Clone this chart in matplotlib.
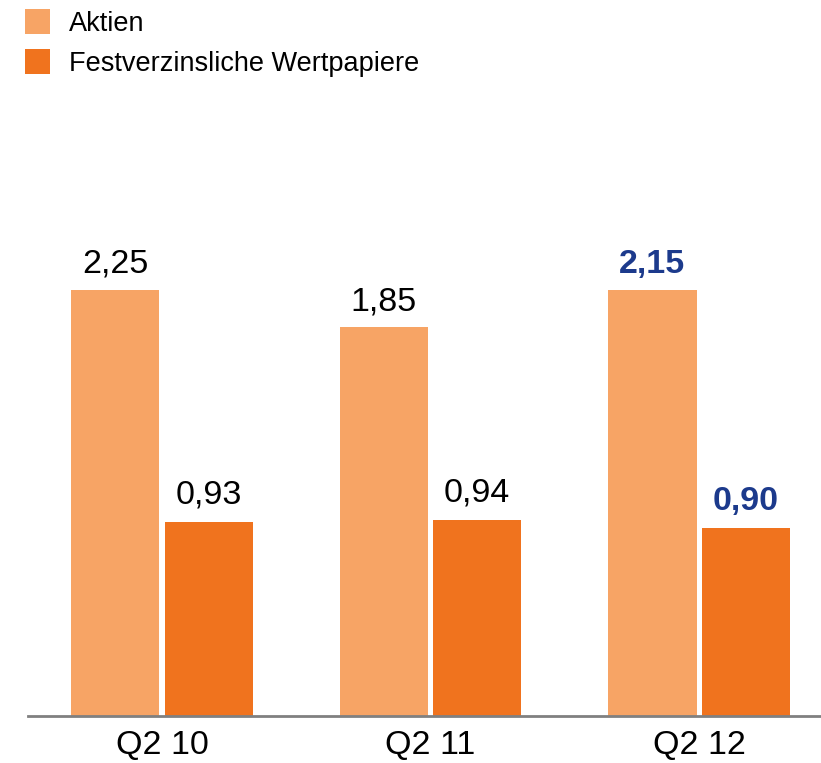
import matplotlib
matplotlib.use('Agg')
from matplotlib import pyplot as plt
import numpy as np

plt.rcParams['font.family'] = ['Liberation Sans', 'DejaVu Sans']

quarters = ['Q2 10', 'Q2 11', 'Q2 12']
# bar heights as drawn in the chart (the tall bars are visually capped)
aktien = [2.04, 1.86, 2.04]
festverz = [0.93, 0.94, 0.90]
aktien_labels = ['2,25', '1,85', '2,15']
festverz_labels = ['0,93', '0,94', '0,90']

c_aktien = '#F7A465'
c_festverz = '#F0731E'
c_blue = '#1C3A8C'

fig = plt.figure(figsize=(8.21, 7.63), dpi=100)
ax = fig.add_axes([28 / 821, 47 / 763, 793 / 821, 716 / 763])

x = np.arange(len(quarters))
w = 0.328
off = 0.1735
b1 = ax.bar(x - off, aktien, w, color=c_aktien, label='Aktien')
b2 = ax.bar(x + off, festverz, w, color=c_festverz, label='Festverzinsliche Wertpapiere')

for i in range(len(quarters)):
    last = i == len(quarters) - 1
    col = c_blue if last else 'black'
    wt = 'bold' if last else 'normal'
    ax.annotate(aktien_labels[i], (x[i] - off, aktien[i]), xytext=(0, 12),
                textcoords='offset points', ha='center', va='baseline',
                fontsize=24.5, color=col, fontweight=wt)
    ax.annotate(festverz_labels[i], (x[i] + off, festverz[i]), xytext=(0, 13),
                textcoords='offset points', ha='center', va='baseline',
                fontsize=24.5, color=col, fontweight=wt)

ax.set_xlim(-0.499, 2.454)
ax.set_ylim(0, 716 / 209)
ax.set_xticks(x)
ax.set_xticklabels(quarters, fontsize=24.5)
ax.tick_params(axis='x', length=0, pad=10)
ax.set_yticks([])
for s in ['top', 'right', 'left']:
    ax.spines[s].set_visible(False)
ax.spines['bottom'].set_color('#808080')
ax.spines['bottom'].set_linewidth(2)

fig.legend(handles=[b1, b2], loc='upper left', bbox_to_anchor=(25 / 821, 1 - 9 / 763),
           frameon=False, fontsize=19.5, handlelength=0.92, handleheight=1.05,
           handletextpad=0.7, labelspacing=0.45, borderpad=0, borderaxespad=0)

fig.savefig('out.png', dpi=100)
